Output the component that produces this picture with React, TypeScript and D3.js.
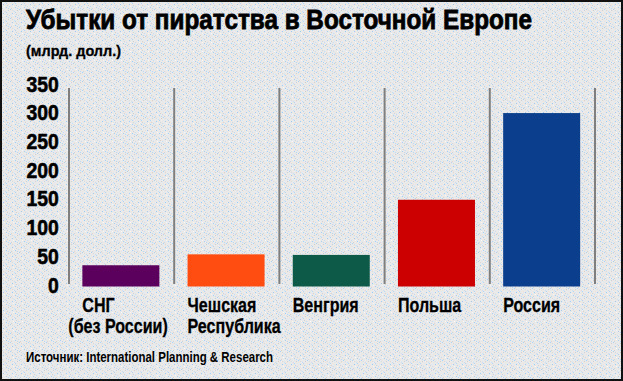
import React from "react";
import * as d3 from "d3";

const categories = ["СНГ", "Чешская", "Венгрия", "Польша", "Россия"];
const categorySubLabels = ["(без России)", "Республика", "", "", ""];
const values = [37, 56, 55, 151, 302];
const barColors = ["#5c005e", "#ff4d12", "#0d5a48", "#cc0000", "#0b3f8e"];
const yTicks = [0, 50, 100, 150, 200, 250, 300, 350];
const title = "Убытки от пиратства в Восточной Европе";
const subtitle = "(млрд. долл.)";
const source = "Источник: International Planning & Research";

const W = 623;
const H = 381;
const FONT = "'Liberation Sans', Arial, sans-serif";

export default function App() {
  const x = d3.scaleBand<string>().domain(categories).range([69, 595]).padding(0);
  const y = d3.scaleLinear().domain([0, 350]).range([286.5, 85.5]);
  const bw = x.bandwidth();
  const barOffset = bw * 0.127;
  const barW = bw * 0.732;

  // pseudo-texture dots (fixed pattern)
  const dots: [number, number, string][] = [
    [1, 0, "#a9d2f5"], [5, 2, "#c8def2"], [3, 4, "#9fcaf2"], [7, 5, "#d2d2d2"],
    [0, 6, "#c5dcf2"], [6, 7, "#a6cff4"], [2, 8, "#d4d4d4"], [8, 1, "#d0d0d0"],
    [4, 6, "#f7f7f7"], [8, 8, "#bad7f3"], [3, 1, "#dadada"], [6, 3, "#b3d4f3"],
  ];

  return (
    <svg
      width={W}
      height={H}
      style={{ position: "absolute", left: 0, top: 0, display: "block" }}
      fontFamily={FONT}
    >
      <defs>
        <pattern id="bg" width={9} height={9} patternUnits="userSpaceOnUse">
          <rect width={9} height={9} fill="#e9e9e9" />
          {dots.map(([dx, dy, c], i) => (
            <rect key={i} x={dx} y={dy} width={1} height={1} fill={c} />
          ))}
        </pattern>
      </defs>
      <rect x={0} y={0} width={W} height={H} fill="url(#bg)" />
      <rect x={1} y={1} width={W - 2} height={H - 2} fill="none" stroke="#111" strokeWidth={2} />

      <text x={26} y={28.5} fontSize={27.5} fontWeight="bold" fill="#000" stroke="#000" strokeWidth={0.8}
        textLength={506} lengthAdjust="spacingAndGlyphs">
        {title}
      </text>
      <text x={26} y={56} fontSize={15} fontWeight="bold" fill="#000" stroke="#000" strokeWidth={0.3}
        textLength={95} lengthAdjust="spacingAndGlyphs">
        {subtitle}
      </text>

      {/* y tick labels */}
      {yTicks.map((t) => (
        <text
          key={t}
          transform={`translate(58.7,${y(t) + 6}) scale(0.88,1)`}
          textAnchor="end"
          fontSize={22}
          fontWeight="bold"
          fill="#000"
          stroke="#000"
          strokeWidth={0.6}
        >
          {t}
        </text>
      ))}

      {/* separators */}
      {[...categories.map((c) => x(c) as number), x.range()[1]].map((sx, i) => (
        <line key={i} x1={sx} x2={sx} y1={88} y2={284} stroke="#7f7f7f" strokeWidth={2} />
      ))}

      {/* bars */}
      {categories.map((c, i) => (
        <rect
          key={c}
          x={(x(c) as number) + barOffset}
          y={y(values[i])}
          width={barW}
          height={y(0) - y(values[i])}
          fill={barColors[i]}
        />
      ))}

      {/* category labels */}
      {categories.map((c, i) => {
        const bx = (x(c) as number) + barOffset;
        const sub = categorySubLabels[i];
        const subX = sub.startsWith("(") ? (x(c) as number) - 0.7 : bx;
        return (
          <g key={c}>
            <text transform={`translate(${bx},311.5) scale(0.765,1)`} fontSize={21} fontWeight="bold" fill="#000"
              stroke="#000" strokeWidth={0.3}>
              {c}
            </text>
            {sub && (
              <text transform={`translate(${subX},333) scale(0.765,1)`} fontSize={21} fontWeight="bold" fill="#000"
                stroke="#000" strokeWidth={0.3}>
                {sub}
              </text>
            )}
          </g>
        );
      })}

      <text x={26} y={361.5} fontSize={15.5} fontWeight="bold" fill="#000" textLength={247} lengthAdjust="spacingAndGlyphs">
        {source}
      </text>
    </svg>
  );
}
